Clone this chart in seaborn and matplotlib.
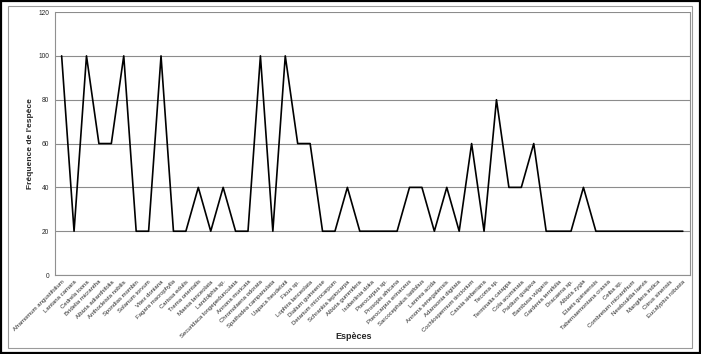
import matplotlib
matplotlib.use("Agg")
import matplotlib.pyplot as plt
import numpy as np
import pandas as pd
import seaborn as sns
from matplotlib.patches import Rectangle

# Espèces et fréquences
especes = [
    "Aframomum angustifolium", "Lantana camara", "Cedrela toona",
    "Bridelia micrantha", "Albizia adianthifolia", "Anthocleista nobilis",
    "Spondias mombin", "Solanum torvum", "Vitex doniana",
    "Fagara macrophylla", "Carissa edulis", "Trema orientalis",
    "Maesa lanceolata", "Landolphia sp.", "Securidaca longepedunculata",
    "Annona muricata", "Chromolaena odorata", "Spathodea campanulata",
    "Uapaca heudelotii", "Ficus sp.", "Lophira lanceolata",
    "Dialium guineense", "Detarium microcarpum", "Schrankia leptocarpa",
    "Albizia gummifera", "Isoberlinia doka", "Pterocarpus sp.",
    "Prosopis africana", "Pterocarpus erinaceus", "Sarcocephalus latifolius",
    "Lannea acida", "Annona senegalensis", "Adansonia digitata",
    "Cochlospermum tinctorium", "Cassia sieberiana", "Tecoma sp.",
    "Terminalia catappa", "Cola acuminata", "Psidium guajava",
    "Bambusa vulgaris", "Gardenia ternifolia", "Dracaena sp.",
    "Albizia zygia", "Elaeis guineensis", "Tabernaemontana crassa",
    "Ceiba sp.", "Combretum micranthum", "Newbouldia laevis",
    "Mangifera indica", "Citrus sinensis", "Eucalyptus robusta",
]
frequence = [
    100, 20, 100, 60, 60, 100, 20, 20, 100, 20,
    20, 40, 20, 40, 20, 20, 100, 20, 100, 60,
    60, 20, 20, 40, 20, 20, 20, 20, 40, 40,
    20, 40, 20, 60, 20, 80, 40, 40, 60, 20,
    20, 20, 40, 20, 20, 20, 20, 20, 20, 20,
    20,
]
y_ticks = [0, 20, 40, 60, 80, 100, 120]

df = pd.DataFrame({"pos": np.arange(len(especes)), "freq": frequence})

sns.set_style("white")
plt.rcParams["font.family"] = ["Liberation Sans", "DejaVu Sans"]

fig = plt.figure(figsize=(7.01, 3.54), dpi=100)
ax = fig.add_axes([0.078, 0.223, 0.906, 0.743])

# cadres autour du graphique (style Excel)
fig.patches.append(Rectangle((0.002, 0.002), 0.996, 0.996, transform=fig.transFigure,
                             fill=False, edgecolor="black", linewidth=1.6))
fig.patches.append(Rectangle((0.011, 0.017), 0.976, 0.965, transform=fig.transFigure,
                             fill=False, edgecolor="#9a9a9a", linewidth=0.8))

sns.lineplot(data=df, x="pos", y="freq", color="black", linewidth=1.2, ax=ax)

ax.set_xlim(-0.56, len(especes) - 0.44)
ax.set_ylim(0, 120)
ax.set_yticks(y_ticks)
ax.set_yticklabels([str(v) for v in y_ticks], fontsize=4.8)
ax.yaxis.grid(True, color="#8c8c8c", linewidth=0.8)
ax.set_axisbelow(True)

ax.set_xticks(np.arange(len(especes)))
ax.set_xticklabels(especes, rotation=45, ha="right", va="top",
                   rotation_mode="anchor", fontsize=4.3)
ax.set_xticks(np.arange(len(especes) + 1) - 0.5, minor=True)
ax.tick_params(axis="x", which="major", length=0, pad=3)
ax.tick_params(axis="x", which="minor", length=2, color="#808080", width=0.6)
ax.tick_params(axis="y", length=2, color="#808080", width=0.6, pad=2)

ax.spines["top"].set_visible(False)
for s in ["left", "bottom", "right"]:
    ax.spines[s].set_color("#909090")
    ax.spines[s].set_linewidth(0.8)

ax.set_xlabel("Espèces", fontsize=6.5, fontweight="bold")
ax.xaxis.set_label_coords(0.47, -0.215)
ax.set_ylabel("Fréquence de l'espèce", fontsize=6, fontweight="bold")
ax.yaxis.set_label_coords(-0.033, 0.5)

fig.savefig("out.png", dpi=100)
